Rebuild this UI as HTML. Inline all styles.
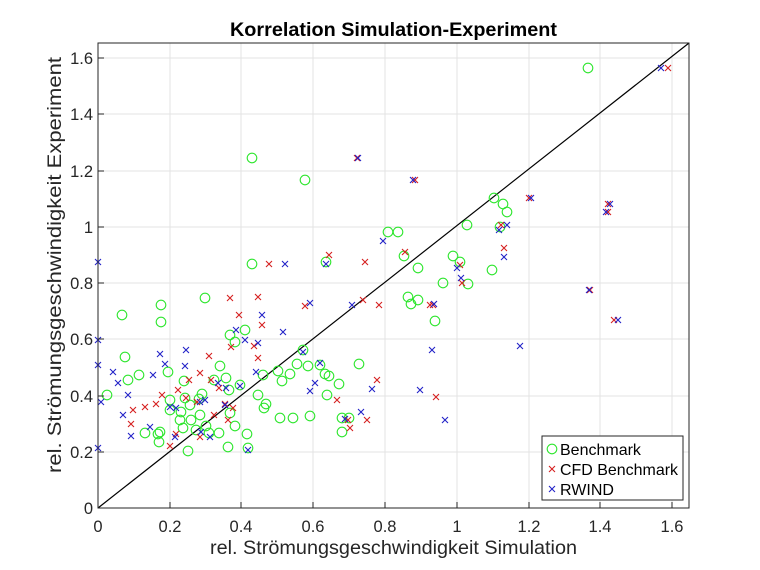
<!DOCTYPE html>
<html><head><meta charset="utf-8"><style>body{margin:0;background:#fff}svg{display:block}text{font-family:"Liberation Sans",Arial,sans-serif}</style></head>
<body>
<svg width="760" height="570" viewBox="0 0 760 570" xmlns="http://www.w3.org/2000/svg">
<defs>
<circle id="g" r="4.8" fill="none" stroke="#2ee62e" stroke-width="1.1"/>
<path id="r" d="M-3,-3L3,3M-3,3L3,-3" stroke="#d62020" stroke-width="1.1"/>
<path id="b" d="M-3,-3L3,3M-3,3L3,-3" stroke="#2323c8" stroke-width="1.1"/>
</defs>
<rect x="98" y="43" width="591" height="465" fill="#fff"/>
<g stroke="#e3e3e3" stroke-width="1">
<path d="M170,43V508M241,43V508M313,43V508M385,43V508M457,43V508M529,43V508M600,43V508M672,43V508"/>
<path d="M98,58H689M98,114H689M98,171H689M98,227H689M98,283H689M98,339H689M98,396H689M98,452H689"/>
</g>
<line x1="98" y1="508" x2="689" y2="43" stroke="#000" stroke-width="1.2"/>
<g>
<use href="#g" x="588" y="68"/><use href="#g" x="252" y="158"/><use href="#g" x="305" y="180"/><use href="#g" x="252" y="264"/><use href="#g" x="326" y="262"/><use href="#g" x="388" y="232"/><use href="#g" x="398" y="232"/><use href="#g" x="404" y="256"/><use href="#g" x="418" y="268"/><use href="#g" x="418" y="300"/><use href="#g" x="408" y="297"/><use href="#g" x="411" y="304"/><use href="#g" x="435" y="321"/><use href="#g" x="443" y="283"/><use href="#g" x="453" y="256"/><use href="#g" x="494" y="198"/><use href="#g" x="500" y="227"/><use href="#g" x="503" y="204"/><use href="#g" x="507" y="212"/><use href="#g" x="492" y="270"/><use href="#g" x="467" y="225"/><use href="#g" x="468" y="284"/><use href="#g" x="460" y="262"/><use href="#g" x="122" y="315"/><use href="#g" x="161" y="305"/><use href="#g" x="161" y="322"/><use href="#g" x="205" y="298"/><use href="#g" x="125" y="357"/><use href="#g" x="107" y="395"/><use href="#g" x="128" y="380"/><use href="#g" x="139" y="375"/><use href="#g" x="168" y="372"/><use href="#g" x="170" y="400"/><use href="#g" x="160" y="432"/><use href="#g" x="145" y="433"/><use href="#g" x="158" y="434"/><use href="#g" x="170" y="410"/><use href="#g" x="180" y="420"/><use href="#g" x="183" y="428"/><use href="#g" x="191" y="420"/><use href="#g" x="220" y="366"/><use href="#g" x="229" y="390"/><use href="#g" x="240" y="385"/><use href="#g" x="245" y="330"/><use href="#g" x="230" y="335"/><use href="#g" x="235" y="342"/><use href="#g" x="219" y="433"/><use href="#g" x="228" y="447"/><use href="#g" x="199" y="399"/><use href="#g" x="200" y="415"/><use href="#g" x="190" y="405"/><use href="#g" x="196" y="430"/><use href="#g" x="209" y="433"/><use href="#g" x="235" y="426"/><use href="#g" x="247" y="434"/><use href="#g" x="230" y="413"/><use href="#g" x="188" y="451"/><use href="#g" x="159" y="442"/><use href="#g" x="206" y="426"/><use href="#g" x="184" y="381"/><use href="#g" x="185" y="398"/><use href="#g" x="202" y="394"/><use href="#g" x="214" y="380"/><use href="#g" x="226" y="378"/><use href="#g" x="181" y="412"/><use href="#g" x="263" y="375"/><use href="#g" x="258" y="395"/><use href="#g" x="266" y="404"/><use href="#g" x="278" y="371"/><use href="#g" x="282" y="381"/><use href="#g" x="290" y="374"/><use href="#g" x="264" y="408"/><use href="#g" x="303" y="350"/><use href="#g" x="308" y="366"/><use href="#g" x="320" y="365"/><use href="#g" x="325" y="374"/><use href="#g" x="327" y="395"/><use href="#g" x="342" y="432"/><use href="#g" x="342" y="418"/><use href="#g" x="349" y="418"/><use href="#g" x="359" y="364"/><use href="#g" x="293" y="418"/><use href="#g" x="280" y="418"/><use href="#g" x="310" y="416"/><use href="#g" x="248" y="448"/><use href="#g" x="297" y="364"/><use href="#g" x="339" y="384"/><use href="#g" x="329" y="376"/>
</g>
<g>
<use href="#r" x="668" y="68"/><use href="#r" x="357" y="158"/><use href="#r" x="415" y="180"/><use href="#r" x="529" y="198"/><use href="#r" x="608" y="204"/><use href="#r" x="501" y="225"/><use href="#r" x="608" y="212"/><use href="#r" x="504" y="248"/><use href="#r" x="590" y="290"/><use href="#r" x="614" y="320"/><use href="#r" x="460" y="265"/><use href="#r" x="433" y="305"/><use href="#r" x="462" y="283"/><use href="#r" x="430" y="305"/><use href="#r" x="405" y="252"/><use href="#r" x="365" y="262"/><use href="#r" x="363" y="300"/><use href="#r" x="379" y="305"/><use href="#r" x="329" y="255"/><use href="#r" x="305" y="306"/><use href="#r" x="269" y="264"/><use href="#r" x="262" y="325"/><use href="#r" x="239" y="315"/><use href="#r" x="230" y="298"/><use href="#r" x="258" y="297"/><use href="#r" x="231" y="347"/><use href="#r" x="258" y="358"/><use href="#r" x="209" y="356"/><use href="#r" x="189" y="380"/><use href="#r" x="200" y="373"/><use href="#r" x="178" y="390"/><use href="#r" x="162" y="395"/><use href="#r" x="156" y="404"/><use href="#r" x="225" y="404"/><use href="#r" x="228" y="420"/><use href="#r" x="200" y="437"/><use href="#r" x="197" y="402"/><use href="#r" x="233" y="408"/><use href="#r" x="133" y="410"/><use href="#r" x="131" y="424"/><use href="#r" x="176" y="434"/><use href="#r" x="170" y="446"/><use href="#r" x="219" y="388"/><use href="#r" x="145" y="407"/><use href="#r" x="337" y="400"/><use href="#r" x="348" y="420"/><use href="#r" x="367" y="420"/><use href="#r" x="436" y="397"/><use href="#r" x="377" y="380"/><use href="#r" x="350" y="428"/><use href="#r" x="211" y="380"/><use href="#r" x="186" y="398"/><use href="#r" x="214" y="415"/><use href="#r" x="254" y="346"/>
</g>
<g>
<use href="#b" x="661" y="68"/><use href="#b" x="358" y="158"/><use href="#b" x="413" y="180"/><use href="#b" x="531" y="198"/><use href="#b" x="610" y="204"/><use href="#b" x="507" y="225"/><use href="#b" x="606" y="212"/><use href="#b" x="504" y="257"/><use href="#b" x="589" y="290"/><use href="#b" x="618" y="320"/><use href="#b" x="457" y="268"/><use href="#b" x="434" y="304"/><use href="#b" x="461" y="278"/><use href="#b" x="499" y="230"/><use href="#b" x="383" y="241"/><use href="#b" x="352" y="305"/><use href="#b" x="310" y="303"/><use href="#b" x="326" y="264"/><use href="#b" x="285" y="264"/><use href="#b" x="283" y="332"/><use href="#b" x="262" y="315"/><use href="#b" x="245" y="340"/><use href="#b" x="258" y="343"/><use href="#b" x="256" y="372"/><use href="#b" x="236" y="330"/><use href="#b" x="240" y="386"/><use href="#b" x="98" y="262"/><use href="#b" x="98" y="340"/><use href="#b" x="98" y="365"/><use href="#b" x="98" y="448"/><use href="#b" x="101" y="402"/><use href="#b" x="113" y="372"/><use href="#b" x="118" y="383"/><use href="#b" x="128" y="395"/><use href="#b" x="123" y="415"/><use href="#b" x="131" y="436"/><use href="#b" x="150" y="427"/><use href="#b" x="160" y="354"/><use href="#b" x="165" y="364"/><use href="#b" x="153" y="375"/><use href="#b" x="186" y="350"/><use href="#b" x="185" y="366"/><use href="#b" x="170" y="407"/><use href="#b" x="176" y="408"/><use href="#b" x="200" y="402"/><use href="#b" x="225" y="405"/><use href="#b" x="248" y="450"/><use href="#b" x="201" y="432"/><use href="#b" x="226" y="388"/><use href="#b" x="218" y="383"/><use href="#b" x="303" y="352"/><use href="#b" x="315" y="383"/><use href="#b" x="345" y="419"/><use href="#b" x="420" y="390"/><use href="#b" x="445" y="420"/><use href="#b" x="520" y="346"/><use href="#b" x="432" y="350"/><use href="#b" x="210" y="437"/><use href="#b" x="175" y="437"/><use href="#b" x="361" y="412"/><use href="#b" x="372" y="389"/><use href="#b" x="310" y="391"/><use href="#b" x="320" y="363"/><use href="#b" x="205" y="400"/>
</g>
<rect x="98" y="43" width="591" height="465" fill="none" stroke="#262626" stroke-width="1"/>
<g stroke="#262626" stroke-width="1">
<path d="M170,508v-6M241,508v-6M313,508v-6M385,508v-6M457,508v-6M529,508v-6M600,508v-6M672,508v-6"/>
<path d="M98,58h6M98,114h6M98,171h6M98,227h6M98,283h6M98,339h6M98,396h6M98,452h6"/>
</g>
<g font-size="16.5" fill="#262626" text-anchor="middle">
<text x="98" y="532">0</text><text x="170" y="532">0.2</text><text x="241" y="532">0.4</text><text x="313" y="532">0.6</text><text x="385" y="532">0.8</text><text x="457" y="532">1</text><text x="529" y="532">1.2</text><text x="600" y="532">1.4</text><text x="672" y="532">1.6</text>
</g>
<g font-size="16.5" fill="#262626" text-anchor="end">
<text x="93" y="514">0</text><text x="93" y="458">0.2</text><text x="93" y="402">0.4</text><text x="93" y="345">0.6</text><text x="93" y="289">0.8</text><text x="93" y="233">1</text><text x="93" y="177">1.2</text><text x="93" y="120">1.4</text><text x="93" y="64">1.6</text>
</g>
<text x="210" y="554" font-size="19.5" fill="#262626" textLength="367" lengthAdjust="spacingAndGlyphs">rel. Strömungsgeschwindigkeit Simulation</text>
<text transform="translate(61,473) rotate(-90)" font-size="19.5" fill="#262626" textLength="416" lengthAdjust="spacingAndGlyphs">rel. Strömungsgeschwindigkeit Experiment</text>
<text x="230" y="36" font-size="19" font-weight="bold" fill="#000" textLength="327" lengthAdjust="spacingAndGlyphs">Korrelation Simulation-Experiment</text>
<rect x="542" y="436" width="141" height="64" fill="#fff" stroke="#262626" stroke-width="1"/>
<use href="#g" x="552" y="449"/><use href="#r" x="552" y="469"/><use href="#b" x="552" y="489"/>
<g font-size="16" fill="#000"><text x="560" y="455">Benchmark</text><text x="560" y="475" textLength="118" lengthAdjust="spacingAndGlyphs">CFD Benchmark</text><text x="560" y="495">RWIND</text></g>
</svg>
</body></html>
